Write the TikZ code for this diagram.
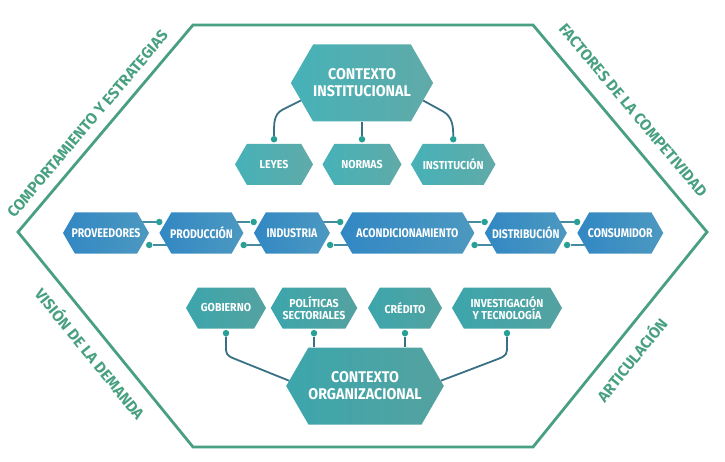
\documentclass[tikz,border=0pt]{standalone}
\usepackage{fontspec}
\usepackage{xcolor}
\usetikzlibrary{shapes.symbols,positioning,calc,backgrounds}
\newfontfamily\hexfont[FakeStretch=0.92]{Fira Sans}
\newfontfamily\cadfont[FakeStretch=0.84]{Fira Sans}
\newfontfamily\bordefont{Fira Sans}
\definecolor{marco}{RGB}{72,160,128}
\definecolor{instL}{RGB}{70,178,184}
\definecolor{instR}{RGB}{96,170,168}
\definecolor{cadL}{RGB}{50,136,196}
\definecolor{cadR}{RGB}{76,152,192}
\definecolor{orgL}{RGB}{60,166,172}
\definecolor{orgR}{RGB}{84,162,160}
\definecolor{enlacec}{RGB}{58,112,132}
\definecolor{cadlink}{RGB}{70,140,160}
\definecolor{puntoc}{RGB}{40,160,150}
\tikzset{
  hexa/.style={
    shape=signal, signal to=east and west, signal pointer angle=120,
    inner sep=0pt, minimum height=41pt, text=white, align=center,
    font=\hexfont\bfseries\fontsize{11.5}{12.5}\selectfont
  },
  inst/.style={hexa, left color=instL, right color=instR},
  cadena/.style={hexa, left color=cadL, right color=cadR, inner xsep=-5pt,
    font=\cadfont\bfseries\fontsize{12.5}{13}\selectfont},
  org/.style={hexa, left color=orgL, right color=orgR},
  grande/.style={minimum height=77pt,
    font=\hexfont\bfseries\fontsize{15.5}{17}\selectfont},
  punto/.style={circle, inner sep=0pt, minimum size=6.5pt, fill=puntoc},
  enlace/.style={draw=enlacec, line width=1.8pt},
  enlacecad/.style={draw=cadlink, line width=1.6pt},
  marcol/.style={draw=marco, line width=2.8pt, line join=miter},
  borde/.style={text=marco, inner sep=0pt, text height=10pt, text depth=0pt,
    font=\bordefont\bfseries\fontsize{15.5}{16}\selectfont}
}

\begin{document}
\begin{tikzpicture}[x=1pt, y=1pt]
\useasboundingbox (0,0) rectangle (725,461);

% marco hexagonal
\coordinate (tl) at (193,436);
\coordinate (tr) at (533,436);
\coordinate (r) at (707,229);
\coordinate (br) at (533,14);
\coordinate (bl) at (193,14);
\coordinate (l) at (18,229);
\draw[marcol] (tl) -- (tr) -- (r) -- (br) -- (bl) -- (l) -- cycle;
\path (l) -- node[borde, pos=.47, sloped, above=11pt] {COMPORTAMIENTO Y ESTRATEGIAS} (tl);
\path (tr) -- node[borde, pos=.48, sloped, above=16pt] {FACTORES DE LA COMPETIVIDAD} (r);
\path (l) -- node[borde, pos=.505, sloped, below=17pt] {VISIÓN DE LA DEMANDA} (bl);
\path (br) -- node[borde, pos=.47, sloped, below=18pt] {ARTICULACIÓN} (r);

% 1 : Contexto institucional
\node[inst, grande, minimum width=133pt] (ci) at (362,378) {CONTEXTO\\INSTITUCIONAL};
\node[inst, minimum width=79pt, below=22pt of ci] (normas) {NORMAS};
\node[inst, minimum width=78pt, left=9pt of normas] (leyes) {LEYES};
\node[inst, minimum width=80pt, right=9pt of normas] (instit) {INSTITUCIÓN};

\node[punto, above=1pt of leyes] (pleyes) {};
\node[punto, above=1pt of normas] (pnormas) {};
\node[punto, above=1pt of instit] (pinstit) {};
\draw[enlace] (ci.196) -- ++(-18,-9) to[out=206, in=90] (pleyes);
\draw[enlace] (ci.south) -- (pnormas);
\draw[enlace] (ci.344) -- ++(20,-11) to[out=-30, in=90] (pinstit);

% 2 : Cadena
\node[cadena, minimum width=86pt] (prov) at (106,228) {PROVEEDORES};
\node[cadena, minimum width=84pt, right=10pt of prov] (prod) {PRODUCCIÓN};
\node[cadena, minimum width=76pt, right=10pt of prod] (indu) {INDUSTRIA};
\node[cadena, minimum width=134pt, right=10pt of indu] (acon) {ACONDICIONAMIENTO};
\node[cadena, minimum width=82pt, right=10pt of acon] (dist) {DISTRIBUCIÓN};
\node[cadena, minimum width=86pt, right=10pt of dist] (cons) {CONSUMIDOR};

\foreach \a/\b in {prov/prod, prod/indu, indu/acon, acon/dist, dist/cons}{
  \node[punto] (\a-arr) at ($(\b.west)+(0,11)$) {};
  \node[punto] (\a-abj) at ($(\a.east)+(0,-12)$) {};
  \begin{scope}[on background layer]
    \draw[enlacecad] (\a-arr) -- (\a-arr -| \a.center);
    \draw[enlacecad] (\a-abj) -- (\a-abj -| \b.center);
  \end{scope}
}

% 3 : Contexto organizacional
\node[org, grande, minimum width=156pt] (co) at (365,75) {CONTEXTO\\ORGANIZACIONAL};
\node[org, minimum width=80pt] (gob) at (226,153) {GOBIERNO};
\node[org, minimum width=84pt] (pol) at (314,153) {POLÍTICAS\\SECTORIALES};
\node[org, minimum width=74pt] (cred) at (405,153) {CRÉDITO};
\node[org, minimum width=110pt] (inv) at (507,153) {INVESTIGACIÓN\\Y TECNOLOGÍA};

\node[punto, below=1pt of gob] (pgob) {};
\node[punto, below=1pt of pol] (ppol) {};
\node[punto, below=1pt of cred] (pcred) {};
\node[punto, below=1pt of inv] (pinv) {};
\draw[enlace] (pgob) -- ++(0,-17) to[out=-90, in=158] ++(12,-10) -- (co.176);
\draw[enlace] (ppol) -- (ppol |- co.north);
\draw[enlace] (pcred) -- (pcred |- co.north);
\draw[enlace] (pinv) -- ++(0,-17) to[out=-90, in=22] ++(-12,-10) -- (co.4);

\end{tikzpicture}
\end{document}
